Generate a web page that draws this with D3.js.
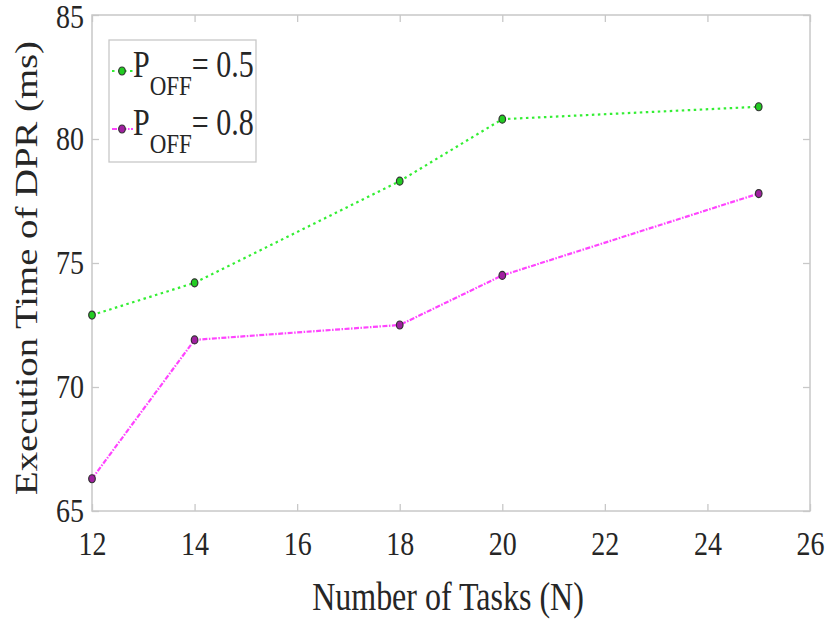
<!DOCTYPE html>
<html lang="en">
<head>
<meta charset="UTF-8" />
<title>index</title>
<script src="https://d3js.org/d3.v7.min.js"></script>
<style>
  body { margin: 0; background: white; }
  text { font-family: "Liberation Serif", "Times New Roman", serif; fill: #262626; }
</style>
</head>
<body>
<div id="chart"></div>
<script>
// data
var tasks = [12, 14, 18, 20, 25];
var poff05 = [72.9, 74.2, 78.3, 80.8, 81.3];
var poff08 = [66.3, 71.9, 72.5, 74.5, 77.8];
var xTicks = [12, 14, 16, 18, 20, 22, 24, 26];
var yTicks = [65, 70, 75, 80, 85];

var W = 827, H = 622;
var stretch = 1.23; // the source image is stretched vertically
var margin = {top: 15, right: 17, bottom: 111, left: 92};
var width = W - margin.left - margin.right,
    height = H - margin.top - margin.bottom;

var svg = d3.select("#chart").append("svg")
    .attr("width", W).attr("height", H);
var g = svg.append("g")
    .attr("transform", "translate(" + margin.left + "," + margin.top + ")");

var x = d3.scaleLinear().domain([12, 26]).range([0, width]);
var y = d3.scaleLinear().domain([65, 85]).range([height, 0]);

// frame
g.append("rect")
  .attr("width", width).attr("height", height)
  .attr("fill", "none").attr("stroke", "#c8c8c8").attr("stroke-width", 1.5);

// axes with inward ticks
var xa = g.append("g").attr("transform", "translate(0," + height + ")")
  .call(d3.axisBottom(x).tickValues(xTicks).tickSizeInner(-7).tickSizeOuter(0));
var xt = g.append("g")
  .call(d3.axisTop(x).tickValues(xTicks).tickSizeInner(-7).tickSizeOuter(0).tickFormat(""));
var ya = g.append("g")
  .call(d3.axisLeft(y).tickValues(yTicks).tickSizeInner(-7).tickSizeOuter(0));
var yr = g.append("g").attr("transform", "translate(" + width + ",0)")
  .call(d3.axisRight(y).tickValues(yTicks).tickSizeInner(-7).tickSizeOuter(0).tickFormat(""));

[xa, xt, ya, yr].forEach(function(a) {
  a.select(".domain").remove();
  a.selectAll(".tick line").attr("stroke", "#c8c8c8").attr("stroke-width", 1.3);
  a.selectAll(".tick text").style("font-size", "28px").attr("fill", "#262626");
});
xa.selectAll(".tick text")
  .attr("y", 0).attr("dy", 0)
  .attr("transform", "translate(0,44) scale(1," + stretch + ")");
ya.selectAll(".tick text")
  .attr("x", -8).attr("dy", 0)
  .attr("transform", function(d) {
    return "translate(0," + (d === 85 ? 12 : 10) + ") scale(1," + stretch + ")";
  });

// lines
var line = d3.line()
  .x(function(d) { return x(d[0]); })
  .y(function(d) { return y(d[1]); });

var series = [
  {vals: poff05, color: "#33ee33", fill: "#22cc22", dash: "2.5,3.5"},
  {vals: poff08, color: "#ff44ff", fill: "#a020a0", dash: "5,1.5,1.5,1.5"}
];

series.forEach(function(s) {
  var pts = tasks.map(function(t, i) { return [t, s.vals[i]]; });
  g.append("path").datum(pts)
    .attr("d", line)
    .attr("fill", "none")
    .attr("stroke", s.color)
    .attr("stroke-width", 2.2)
    .attr("stroke-dasharray", s.dash);
  g.selectAll(null).data(pts).enter().append("ellipse")
    .attr("cx", function(d) { return x(d[0]); })
    .attr("cy", function(d) { return y(d[1]); })
    .attr("rx", 3.3).attr("ry", 4)
    .attr("fill", s.fill)
    .attr("stroke", "#333")
    .attr("stroke-width", 1.2);
});

// legend
var leg = svg.append("g").attr("transform", "translate(109,40)");
leg.append("rect").attr("width", 147).attr("height", 122)
  .attr("fill", "white").attr("stroke", "#c8c8c8").attr("stroke-width", 1.3);
var legLabels = ["0.5", "0.8"];
series.forEach(function(s, i) {
  var cy = 31 + i * 58;
  leg.append("line").attr("x1", 3).attr("x2", 24).attr("y1", cy).attr("y2", cy)
    .attr("stroke", s.color).attr("stroke-width", 2.2).attr("stroke-dasharray", s.dash);
  leg.append("ellipse").attr("cx", 13).attr("cy", cy).attr("rx", 3.3).attr("ry", 4)
    .attr("fill", s.fill).attr("stroke", "#333").attr("stroke-width", 1.2);
  var t = leg.append("text")
    .attr("transform", "translate(24," + (cy + 6) + ") scale(1," + stretch + ")")
    .style("font-size", "30px");
  t.append("tspan").text("P");
  t.append("tspan").attr("dy", 14.5).style("font-size", "23px").text("OFF");
  t.append("tspan").attr("dy", -14.5).text("= " + legLabels[i]);
});

// axis titles
svg.append("text")
  .attr("transform", "translate(" + (margin.left + width / 2 - 3) + ",610) scale(1," + stretch + ")")
  .attr("text-anchor", "middle").style("font-size", "32px")
  .text("Number of Tasks (N)");
svg.append("text")
  .attr("transform", "translate(37," + (margin.top + height / 2 + 5) + ") scale(1," + stretch + ") rotate(-90)")
  .attr("text-anchor", "middle").style("font-size", "31.5px")
  .text("Execution Time of DPR (ms)");
</script>
</body>
</html>
